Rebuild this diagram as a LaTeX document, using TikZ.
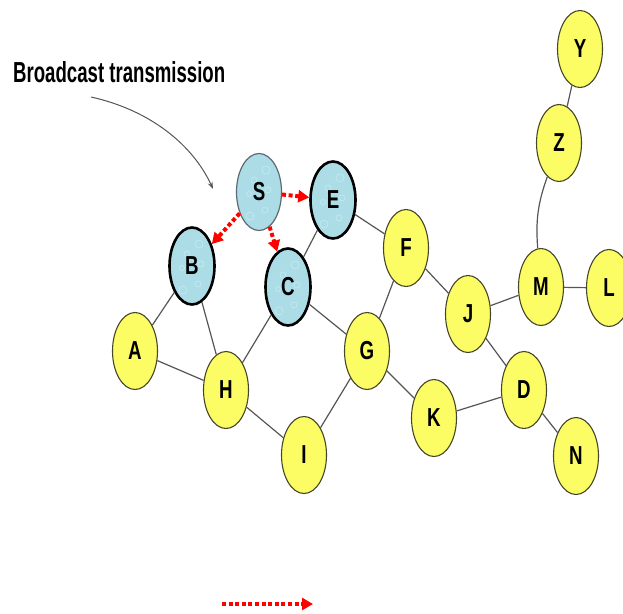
\documentclass[tikz,border=0pt]{standalone}
\usepackage{fontspec}
\setmainfont{Liberation Sans}
\newfontfamily\lbl{Liberation Sans}[FakeStretch=0.72]
\usetikzlibrary{shapes.geometric,arrows.meta}
\definecolor{nodeyellow}{RGB}{252,252,100}
\definecolor{nodeblue}{RGB}{172,221,231}
\definecolor{dropblue}{RGB}{192,232,240}
\definecolor{edgegray}{RGB}{85,85,85}
\definecolor{rimolive}{RGB}{70,70,40}
\begin{document}
\begin{tikzpicture}[x=1pt,y=-1pt,
  station/.style={ellipse,minimum width=45pt,minimum height=77pt,inner sep=0pt,
    font=\lbl\bfseries\fontsize{26}{26}\selectfont},
  plain/.style={station,fill=nodeyellow,draw=rimolive,line width=1.1pt},
  reached/.style={station,fill=nodeblue,draw=black,line width=2.6pt,
    path picture={
      \foreach \dx/\dy/\r in {-9/-24/4,6/-18/3,-5/12/3,7/22/4,-10/-2/2.5,9/2/3}
        \draw[dropblue,line width=0.8pt] ([xshift=\dx pt,yshift=\dy pt]path picture bounding box.center) circle (\r pt);}},
  source/.style={reached,draw={rgb,255:red,95;green,105;blue,115},line width=1.2pt},
  link/.style={draw=edgegray,line width=1.2pt},
  bcast/.style={draw=red,line width=4pt,dash pattern=on 4pt off 2.6pt,
    -{Triangle[length=11pt,width=12pt]}},
]
\useasboundingbox (0,0) rectangle (623,613);

% caption with pointer
\node[anchor=south west,inner sep=0pt] (cap) at (13,83)
  {\resizebox{212pt}{21pt}{\bfseries Broadcast transmission}};
\coordinate (capstart) at (91,97);
\coordinate (captip) at (213,189);
\draw[draw=edgegray,line width=1pt,-{Stealth[length=7pt,width=5pt]}]
  (capstart) .. controls (150,110) and (193,145) .. (captip);

% stations
\node[source]  (S) at (259,192) {S};
\node[reached] (E) at (333,200) {E};
\node[reached] (B) at (192,266) {B};
\node[reached] (C) at (288,287) {C};
\node[plain] (A) at (135,351) {A};
\node[plain] (H) at (226,390) {H};
\node[plain] (I) at (304,455) {I};
\node[plain] (G) at (367,351) {G};
\node[plain] (F) at (406,248) {F};
\node[plain] (J) at (468,314) {J};
\node[plain] (K) at (434,418) {K};
\node[plain] (D) at (524,390) {D};
\node[plain] (N) at (576,456) {N};
\node[plain] (M) at (541,287) {M};
\node[plain] (L) at (609,288) {L};
\node[plain] (Z) at (559,143) {Z};
\node[plain] (Y) at (580,49) {Y};

% links
\path[link] (B) -- (A) (B) -- (H) (A) -- (H) (H) -- (C) (H) -- (I)
  (C) -- (E) (C) -- (G) (I) -- (G) (G) -- (F) (G) -- (K) (E) -- (F)
  (F) -- (J) (J) -- (M) (M) -- (L) (J) -- (D) (K) -- (D) (D) -- (N)
  (Z) -- (Y);
\draw[link] (Z) to[bend right=12] (M);

% broadcast hops from the source
\draw[bcast] (S) -- (E);
\draw[bcast] (S) -- (B);
\draw[bcast] (S) -- (C);

% legend arrow
\coordinate (lg1) at (222,604);
\coordinate (lg2) at (313,604);
\draw[bcast] (lg1) -- (lg2);
\end{tikzpicture}
\end{document}
